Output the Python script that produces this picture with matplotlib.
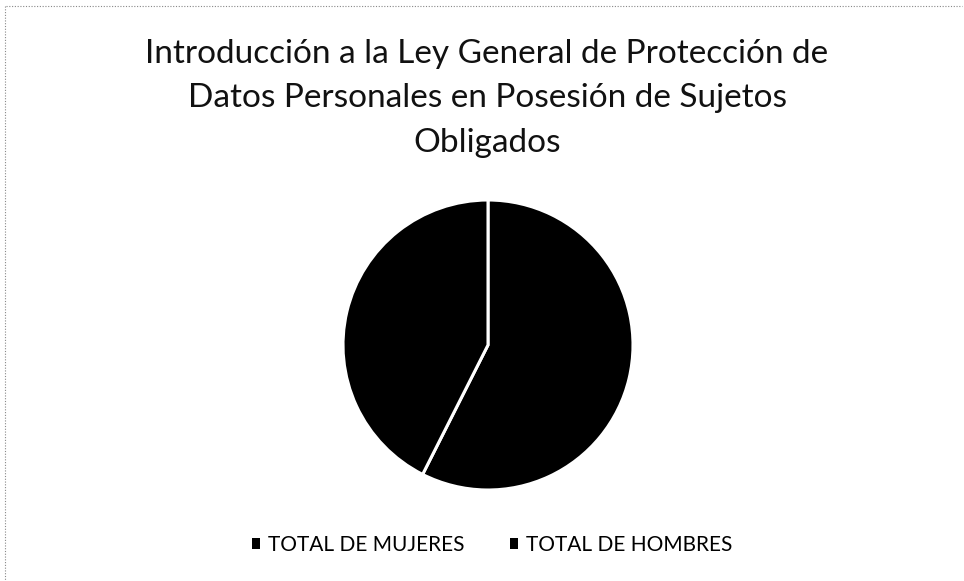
import matplotlib
matplotlib.use("Agg")
import matplotlib.pyplot as plt
from matplotlib.lines import Line2D

title = "Introducción a la Ley General de Protección de\nDatos Personales en Posesión de Sujetos\nObligados"
categories = ["TOTAL DE MUJERES", "TOTAL DE HOMBRES"]
values = [27, 20]
colors = ["#000000", "#000000"]

plt.rcParams['font.family'] = ['Lato', 'DejaVu Sans']

W, H = 964, 581
fig = plt.figure(figsize=(W / 100, H / 100), dpi=100)
fig.patch.set_facecolor("white")

# pie axes: center (488, 345), radius 145 px
cx, cy, r = 488, 345, 145
ax = fig.add_axes([(cx - r) / W, (H - cy - r) / H, 2 * r / W, 2 * r / H])
wedges, _ = ax.pie(values, colors=colors, startangle=90, counterclock=False,
                   wedgeprops=dict(edgecolor="white", linewidth=2.2))
ax.set_xlim(-1.0, 1.0)
ax.set_ylim(-1.0, 1.0)
ax.set_aspect("equal")
ax.axis("off")

fig.text(487 / W, 1 - 39 / H, title, ha="center", va="top", fontsize=24,
         linespacing=1.6, color="#111111")

handles = [plt.Rectangle((0, 0), 1, 1, facecolor=c, edgecolor="none") for c in colors]
fig.legend(handles, categories, loc="center", bbox_to_anchor=(492 / W, 1 - 545 / H),
           ncol=2, frameon=False, fontsize=15, handlelength=0.4, handleheight=0.4,
           handletextpad=0.35, columnspacing=2.2)

# dotted chart-area border (top and left edges)
fig.add_artist(Line2D([6 / W, 1 - 2 / W], [1 - 6 / H, 1 - 6 / H], transform=fig.transFigure,
                      color="#888888", linewidth=0.8, linestyle=(0, (1, 1.5))))
fig.add_artist(Line2D([5 / W, 5 / W], [1 - 6 / H, 0], transform=fig.transFigure,
                      color="#888888", linewidth=0.8, linestyle=(0, (1, 1.5))))

fig.savefig("out.png", dpi=100)
